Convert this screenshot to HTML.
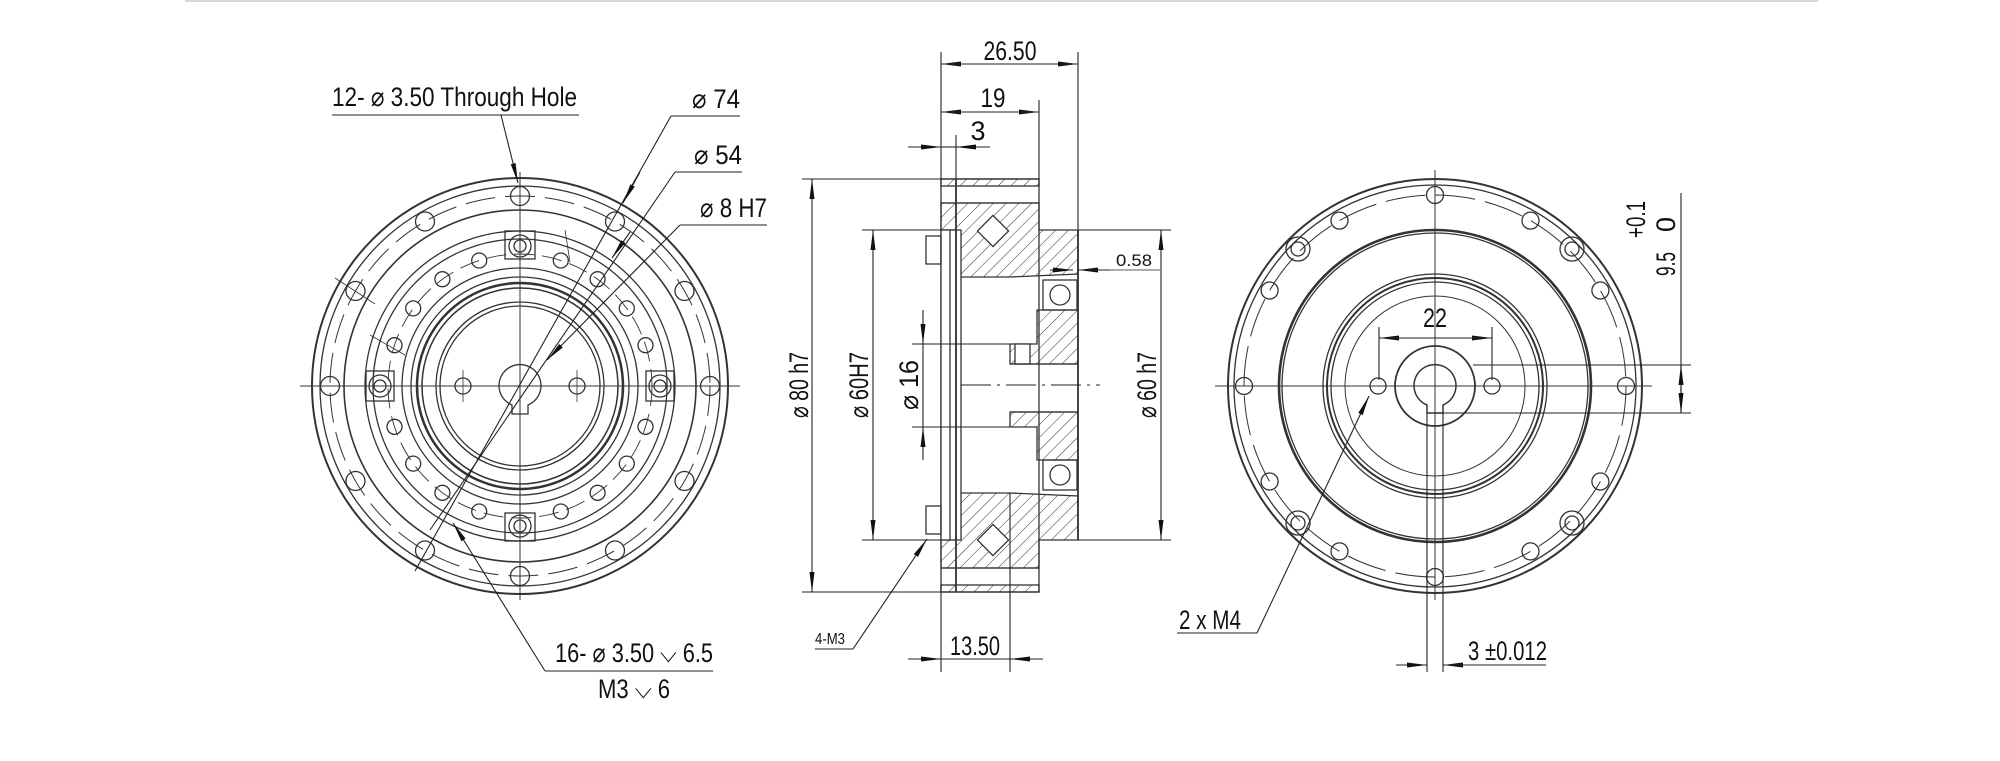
<!DOCTYPE html>
<html><head><meta charset="utf-8"><style>
html,body{margin:0;padding:0;background:#fff;}
svg{display:block;}
text{font-family:"Liberation Sans Narrow","Liberation Sans",sans-serif;fill:#111;}
</style></head><body>
<svg width="2000" height="761" viewBox="0 0 2000 761" xmlns="http://www.w3.org/2000/svg">
<defs>
<marker id="a" viewBox="0 0 20 6" refX="20" refY="3" markerWidth="20" markerHeight="6" markerUnits="userSpaceOnUse" orient="auto"><path d="M0,0.5 L20,3 L0,5.5 z" fill="#111"/></marker>
<pattern id="h" width="9" height="9" patternUnits="userSpaceOnUse" patternTransform="rotate(45)"><line x1="0" y1="0" x2="0" y2="9" stroke="#333" stroke-width="1"/></pattern>
</defs>
<line x1="185" y1="1" x2="1818" y2="1" stroke="#ccc" stroke-width="1.5"/>

<!-- LEFT VIEW -->
<g stroke="#333" fill="none" stroke-width="1.3">
<circle cx="520" cy="386" r="208" stroke-width="2"/>
<circle cx="520" cy="386" r="200"/>
<circle cx="520" cy="386" r="190" stroke-dasharray="30 10" stroke-width="1"/>
<circle cx="520" cy="386" r="176" stroke-width="1.6"/>
<circle cx="520" cy="386" r="155"/>
<circle cx="520" cy="386" r="147"/>
<circle cx="520" cy="386" r="132" stroke-dasharray="20 8" stroke-width="0.9"/>
<circle cx="520" cy="386" r="118"/>
<circle cx="520" cy="386" r="109"/>
<circle cx="520" cy="386" r="103" stroke-width="2.5"/>
<circle cx="520" cy="386" r="98" stroke-width="1.5"/>
<circle cx="520" cy="386" r="84"/>
<circle cx="520" cy="386" r="80"/>
<path d="M512,405 A21,21 0 1 1 528,405 L528,414 L512,414 Z"/>
<circle cx="463" cy="386" r="8"/><circle cx="577" cy="386" r="8"/>
<line x1="463" y1="370" x2="463" y2="402" stroke-width="0.8"/><line x1="577" y1="370" x2="577" y2="402" stroke-width="0.8"/>
<g>
<circle cx="710" cy="386" r="9.5"/><circle cx="684.5" cy="481" r="9.5"/><circle cx="615" cy="550.5" r="9.5"/><circle cx="520" cy="576" r="9.5"/><circle cx="425" cy="550.5" r="9.5"/><circle cx="355.5" cy="481" r="9.5"/><circle cx="330" cy="386" r="9.5"/><circle cx="355.5" cy="291" r="9.5"/><circle cx="425" cy="221.5" r="9.5"/><circle cx="520" cy="196" r="9.5"/><circle cx="615" cy="221.5" r="9.5"/><circle cx="684.5" cy="291" r="9.5"/>
</g>
<g>
<circle cx="645.5" cy="426.8" r="7.5"/><circle cx="626.8" cy="463.6" r="7.5"/><circle cx="597.6" cy="492.8" r="7.5"/><circle cx="560.8" cy="511.5" r="7.5"/>
<circle cx="479.2" cy="511.5" r="7.5"/><circle cx="442.4" cy="492.8" r="7.5"/><circle cx="413.2" cy="463.6" r="7.5"/><circle cx="394.5" cy="426.8" r="7.5"/>
<circle cx="394.5" cy="345.2" r="7.5"/><circle cx="413.2" cy="308.4" r="7.5"/><circle cx="442.4" cy="279.2" r="7.5"/><circle cx="479.2" cy="260.5" r="7.5"/>
<circle cx="560.8" cy="260.5" r="7.5"/><circle cx="597.6" cy="279.2" r="7.5"/><circle cx="626.8" cy="308.4" r="7.5"/><circle cx="645.5" cy="345.2" r="7.5"/>
</g>
<g>
<rect x="505" y="231" width="30" height="28"/><circle cx="520" cy="246" r="11"/><circle cx="520" cy="246" r="6"/>
<rect x="505" y="513" width="30" height="28"/><circle cx="520" cy="526" r="11"/><circle cx="520" cy="526" r="6"/>
<rect x="366" y="371" width="28" height="30"/><circle cx="380" cy="386" r="11"/><circle cx="380" cy="386" r="6"/>
<rect x="646" y="371" width="28" height="30"/><circle cx="660" cy="386" r="11"/><circle cx="660" cy="386" r="6"/>
</g>
<line x1="300" y1="386" x2="740" y2="386" stroke-width="1"/>
<line x1="520" y1="172" x2="520" y2="600" stroke-width="1"/>
<line x1="335" y1="278" x2="375" y2="304" stroke-width="0.8"/><line x1="370" y1="335" x2="405" y2="355" stroke-width="0.8"/>
<line x1="565" y1="230" x2="570" y2="262" stroke-width="0.8"/>
</g>
<g stroke="#222" fill="none" stroke-width="1.1">
<line x1="332" y1="115" x2="579" y2="115"/>
<line x1="501" y1="115" x2="518" y2="183" marker-end="url(#a)"/>
<line x1="740" y1="116" x2="671" y2="116"/>
<line x1="671" y1="116" x2="415" y2="571"/>
<line x1="640" y1="172" x2="623" y2="203" marker-end="url(#a)"/>
<line x1="742" y1="172" x2="675" y2="172"/>
<line x1="675" y1="172" x2="430" y2="530"/>
<line x1="630" y1="232" x2="612" y2="258" marker-end="url(#a)"/>
<line x1="767" y1="225" x2="680" y2="225"/>
<line x1="680" y1="225" x2="547" y2="360" marker-end="url(#a)"/>
<line x1="545" y1="671" x2="713" y2="671"/>
<line x1="545" y1="671" x2="453" y2="523" marker-end="url(#a)"/>
</g>
<g font-size="27">
<text x="332" y="106" textLength="245" lengthAdjust="spacingAndGlyphs">12- ⌀ 3.50 Through Hole</text>
<text x="692" y="108" textLength="48" lengthAdjust="spacingAndGlyphs">⌀ 74</text>
<text x="694" y="164" textLength="48" lengthAdjust="spacingAndGlyphs">⌀ 54</text>
<text x="700" y="217" textLength="67" lengthAdjust="spacingAndGlyphs">⌀ 8 H7</text>
<text x="555" y="662" textLength="158" lengthAdjust="spacingAndGlyphs">16- ⌀ 3.50 ⌵ 6.5</text>
<text x="598" y="698" textLength="72" lengthAdjust="spacingAndGlyphs">M3 ⌵ 6</text>
</g>

<!-- MIDDLE SECTION -->
<g stroke="#333" fill="none" stroke-width="1.3">
<rect x="941" y="179" width="98" height="7" fill="url(#h)"/>
<rect x="941" y="585" width="98" height="7" fill="url(#h)"/>
<rect x="941" y="179" width="98" height="413"/>
<line x1="941" y1="203" x2="1039" y2="203"/><line x1="941" y1="568" x2="1039" y2="568"/>
<path d="M941,203 L1039,203 L1039,230 L1078,230 L1078,274 L1010,277 L961,277 L961,230 L941,230 Z" fill="url(#h)"/>
<path d="M941,568 L1039,568 L1039,540 L1078,540 L1078,496 L1010,493 L961,493 L961,540 L941,540 Z" fill="url(#h)"/>
<rect x="941" y="230" width="15" height="310" fill="#fff"/>
<line x1="950" y1="230" x2="950" y2="540"/>
<line x1="956" y1="179" x2="956" y2="592" stroke-width="1.8"/>
<rect x="926" y="236" width="15" height="28"/><rect x="926" y="506" width="15" height="28"/>
<rect x="1043" y="280" width="34" height="30" fill="#fff"/><circle cx="1060" cy="295" r="10"/>
<rect x="1043" y="460" width="34" height="30" fill="#fff"/><circle cx="1060" cy="475" r="10"/>
<path d="M1037,310 L1078,310 L1078,364 L1010,364 L1010,344 L1037,344 Z" fill="url(#h)"/>
<path d="M1037,460 L1078,460 L1078,412 L1010,412 L1010,427 L1037,427 Z" fill="url(#h)"/>
<rect x="1015" y="344" width="15" height="20" fill="#fff"/>
<line x1="961" y1="277" x2="961" y2="493"/>
<rect x="982" y="220" width="22" height="22" transform="rotate(45 993 231)" fill="#fff"/>
<rect x="982" y="529" width="22" height="22" transform="rotate(45 993 540)" fill="#fff"/>
<line x1="1078" y1="230" x2="1078" y2="540" stroke-width="1.8"/>
<line x1="1010" y1="364" x2="1078" y2="364"/><line x1="1010" y1="412" x2="1078" y2="412"/>
</g>
<g stroke="#222" fill="none" stroke-width="1.1">
<line x1="941" y1="52" x2="941" y2="179"/><line x1="1078" y1="52" x2="1078" y2="230"/>
<line x1="1039" y1="100" x2="1039" y2="179"/><line x1="956" y1="135" x2="956" y2="179"/>
<line x1="970" y1="64" x2="941" y2="64" marker-end="url(#a)"/><line x1="1050" y1="64" x2="1078" y2="64" marker-end="url(#a)"/><line x1="941" y1="64" x2="1078" y2="64"/>
<line x1="970" y1="112" x2="941" y2="112" marker-end="url(#a)"/><line x1="1010" y1="112" x2="1039" y2="112" marker-end="url(#a)"/><line x1="941" y1="112" x2="1039" y2="112"/>
<line x1="908" y1="147" x2="941" y2="147" marker-end="url(#a)"/><line x1="990" y1="147" x2="956" y2="147" marker-end="url(#a)"/><line x1="941" y1="147" x2="956" y2="147"/>
<line x1="802" y1="179" x2="941" y2="179"/><line x1="802" y1="592" x2="941" y2="592"/>
<line x1="812" y1="385" x2="812" y2="179" marker-end="url(#a)"/><line x1="812" y1="385" x2="812" y2="592" marker-end="url(#a)"/>
<line x1="862" y1="230" x2="941" y2="230"/><line x1="862" y1="540" x2="941" y2="540"/>
<line x1="873" y1="385" x2="873" y2="230" marker-end="url(#a)"/><line x1="873" y1="385" x2="873" y2="540" marker-end="url(#a)"/>
<line x1="912" y1="344" x2="1010" y2="344"/><line x1="912" y1="427" x2="1010" y2="427"/>
<line x1="923" y1="310" x2="923" y2="344" marker-end="url(#a)"/><line x1="923" y1="460" x2="923" y2="427" marker-end="url(#a)"/><line x1="923" y1="344" x2="923" y2="427"/>
<line x1="1078" y1="230" x2="1171" y2="230"/><line x1="1078" y1="540" x2="1171" y2="540"/>
<line x1="1161" y1="385" x2="1161" y2="230" marker-end="url(#a)"/><line x1="1161" y1="385" x2="1161" y2="540" marker-end="url(#a)"/>
<line x1="961" y1="385" x2="1100" y2="385" stroke-dasharray="30 6 3 6" stroke-width="0.9"/>
<line x1="1050" y1="270" x2="1073" y2="270" marker-end="url(#a)"/><line x1="1110" y1="270" x2="1078" y2="270" marker-end="url(#a)"/>
<line x1="1078" y1="270" x2="1160" y2="270" stroke-width="0.8"/>
<line x1="941" y1="592" x2="941" y2="672"/><line x1="1010" y1="493" x2="1010" y2="672"/>
<line x1="908" y1="659" x2="941" y2="659" marker-end="url(#a)"/><line x1="1043" y1="659" x2="1010" y2="659" marker-end="url(#a)"/><line x1="941" y1="659" x2="1010" y2="659"/>
<line x1="815" y1="649" x2="853" y2="649"/><line x1="853" y1="649" x2="927" y2="539" marker-end="url(#a)"/>
</g>
<g font-size="27" text-anchor="middle">
<text x="1010" y="60" textLength="53" lengthAdjust="spacingAndGlyphs">26.50</text>
<text x="993" y="107" textLength="25" lengthAdjust="spacingAndGlyphs">19</text>
<text x="978" y="140">3</text>
<text x="975" y="655" textLength="50" lengthAdjust="spacingAndGlyphs">13.50</text>
<text transform="translate(808 385) rotate(-90)" textLength="66" lengthAdjust="spacingAndGlyphs">⌀ 80 h7</text>
<text transform="translate(868 385) rotate(-90)" textLength="66" lengthAdjust="spacingAndGlyphs">⌀ 60H7</text>
<text transform="translate(918 385) rotate(-90)" textLength="50" lengthAdjust="spacingAndGlyphs">⌀ 16</text>
<text transform="translate(1156 385) rotate(-90)" textLength="66" lengthAdjust="spacingAndGlyphs">⌀ 60 h7</text>
</g>
<text x="1116" y="266" font-size="17" textLength="36" lengthAdjust="spacingAndGlyphs">0.58</text>
<text x="815" y="644" font-size="16" textLength="30" lengthAdjust="spacingAndGlyphs">4-M3</text>

<!-- RIGHT VIEW -->
<g stroke="#333" fill="none" stroke-width="1.3">
<circle cx="1435" cy="386" r="207" stroke-width="2"/>
<circle cx="1435" cy="386" r="201"/>
<circle cx="1435" cy="386" r="191" stroke-dasharray="40 10" stroke-width="1"/>
<circle cx="1435" cy="386" r="156" stroke-width="2.6"/>
<circle cx="1435" cy="386" r="153"/>
<circle cx="1435" cy="386" r="112"/>
<circle cx="1435" cy="386" r="108" stroke-width="2"/>
<circle cx="1435" cy="386" r="104"/>
<circle cx="1435" cy="386" r="90" stroke-width="1"/>
<circle cx="1435" cy="386" r="40" stroke-width="1.8"/>
<path d="M1427,405 A21,21 0 1 1 1443,405 L1443,413 L1427,413 Z" stroke-width="1.5"/>
<circle cx="1378" cy="386" r="8"/><circle cx="1492" cy="386" r="8"/>
<g>
<circle cx="1626" cy="386" r="8.5"/><circle cx="1600.4" cy="481.5" r="8.5"/><circle cx="1530.5" cy="551.4" r="8.5"/><circle cx="1435" cy="577" r="8.5"/><circle cx="1339.5" cy="551.4" r="8.5"/><circle cx="1269.6" cy="481.5" r="8.5"/><circle cx="1244" cy="386" r="8.5"/><circle cx="1269.6" cy="290.5" r="8.5"/><circle cx="1339.5" cy="220.6" r="8.5"/><circle cx="1435" cy="195" r="8.5"/><circle cx="1530.5" cy="220.6" r="8.5"/><circle cx="1600.4" cy="290.5" r="8.5"/>
</g>
<g>
<circle cx="1572" cy="249" r="12"/><circle cx="1572" cy="249" r="7"/>
<circle cx="1298" cy="249" r="12"/><circle cx="1298" cy="249" r="7"/>
<circle cx="1572" cy="523" r="12"/><circle cx="1572" cy="523" r="7"/>
<circle cx="1298" cy="523" r="12"/><circle cx="1298" cy="523" r="7"/>
</g>
<line x1="1215" y1="386" x2="1652" y2="386" stroke-width="1"/>
<line x1="1435" y1="170" x2="1435" y2="600" stroke-width="1"/>
</g>
<g stroke="#222" fill="none" stroke-width="1.1">
<line x1="1379" y1="327" x2="1379" y2="380"/><line x1="1492" y1="327" x2="1492" y2="380"/>
<line x1="1410" y1="338" x2="1379" y2="338" marker-end="url(#a)"/><line x1="1460" y1="338" x2="1492" y2="338" marker-end="url(#a)"/><line x1="1379" y1="338" x2="1492" y2="338"/>
<line x1="1473" y1="365" x2="1691" y2="365"/><line x1="1436" y1="413" x2="1691" y2="413"/>
<line x1="1681" y1="193" x2="1681" y2="413"/>
<line x1="1681" y1="392" x2="1681" y2="365" marker-end="url(#a)"/><line x1="1681" y1="388" x2="1681" y2="413" marker-end="url(#a)"/>
<line x1="1427" y1="413" x2="1427" y2="672"/><line x1="1443" y1="413" x2="1443" y2="672"/>
<line x1="1396" y1="665" x2="1427" y2="665" marker-end="url(#a)"/><line x1="1470" y1="665" x2="1443" y2="665" marker-end="url(#a)"/><line x1="1443" y1="665" x2="1546" y2="665"/>
<line x1="1177" y1="633" x2="1257" y2="633"/><line x1="1257" y1="633" x2="1369" y2="396" marker-end="url(#a)"/>
</g>
<g font-size="27">
<text x="1435" y="327" text-anchor="middle" textLength="24" lengthAdjust="spacingAndGlyphs">22</text>
<text x="1179" y="629" textLength="62" lengthAdjust="spacingAndGlyphs">2 x M4</text>
<text x="1468" y="660" textLength="79" lengthAdjust="spacingAndGlyphs">3 ±0.012</text>
<text transform="translate(1645 238) rotate(-90)" textLength="37" lengthAdjust="spacingAndGlyphs">+0.1</text>
<text transform="translate(1675 232) rotate(-90)">0</text>
<text transform="translate(1675 276) rotate(-90)" textLength="24" lengthAdjust="spacingAndGlyphs">9.5</text>
</g>
</svg>
</body></html>
